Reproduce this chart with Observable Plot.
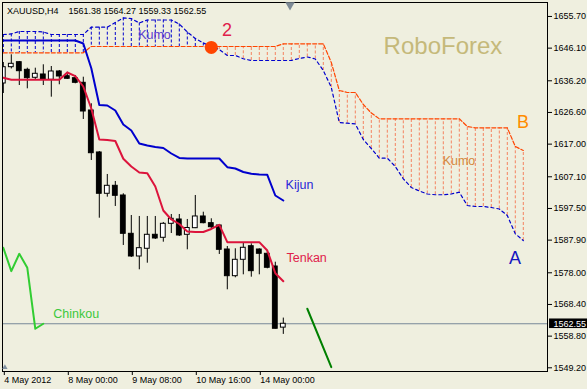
<!DOCTYPE html>
<html><head><meta charset="utf-8">
<script src="https://cdn.jsdelivr.net/npm/d3@7"></script>
<script src="https://cdn.jsdelivr.net/npm/@observablehq/plot@0.6"></script>
<style>
html,body{margin:0;padding:0;background:#efefdf;}
</style></head><body><div id="chart"></div>
<script>
// ---- data ----
const header = "XAUUSD,H4\u00a0\u00a0\u00a0 1561.38 1564.27 1559.33 1562.55";
const open  = [1635.38,1640.32,1641.84,1639.53,1637.11,1638.11,1636.50,1639.02,1637.59,1636.99,1635.59,1627.20,1614.47,1601.95,1604.37,1601.43,1589.82,1582.94,1585.28,1589.52,1588.61,1592.85,1594.16,1589.52,1591.52,1595.07,1593.04,1592.34,1585.06,1576.97,1581.94,1586.06,1585.06,1583.76,1579.91,1561.38];
const high  = [1641.75,1644.08,1642.05,1640.02,1640.02,1641.05,1640.53,1639.32,1638.81,1637.81,1637.29,1629.23,1614.77,1607.80,1605.68,1601.95,1595.37,1595.07,1595.07,1595.07,1593.25,1595.67,1595.67,1594.16,1601.43,1596.37,1594.37,1592.55,1585.97,1585.28,1586.97,1586.79,1585.28,1584.46,1581.21,1564.27];
const low   = [1632.35,1639.78,1634.77,1633.77,1636.29,1634.77,1631.23,1634.99,1636.59,1635.29,1624.47,1612.04,1594.55,1600.92,1598.10,1586.28,1582.64,1578.91,1580.91,1588.10,1587.28,1589.91,1589.00,1584.97,1591.40,1592.85,1591.34,1583.55,1572.85,1576.49,1577.39,1576.67,1577.39,1579.21,1560.96,1559.33];
const close = [1640.32,1641.35,1639.11,1636.99,1638.32,1636.59,1639.02,1637.50,1636.81,1635.59,1626.89,1614.25,1601.95,1604.37,1601.34,1589.82,1582.94,1585.46,1589.52,1588.40,1592.85,1594.37,1589.31,1591.58,1595.07,1593.04,1591.82,1584.97,1576.97,1581.94,1585.58,1578.49,1583.76,1579.52,1561.03,1562.55];
const tenkan = [1637.11,1636.50,1636.50,1636.50,1636.50,1636.50,1636.50,1636.50,1638.72,1637.59,1634.47,1627.80,1618.41,1618.25,1617.95,1612.56,1610.22,1608.40,1608.19,1604.16,1596.88,1594.16,1592.79,1590.52,1590.37,1590.37,1591.28,1592.52,1587.28,1587.28,1587.28,1587.28,1587.28,1584.76,1577.88,1575.45];
const kijun = [1648.42,1648.42,1648.42,1648.42,1648.42,1648.42,1648.42,1648.42,1648.42,1648.42,1647.51,1640.00,1628.86,1628.71,1627.20,1622.95,1621.13,1617.19,1616.59,1616.13,1615.83,1614.16,1612.80,1612.65,1612.65,1612.65,1612.65,1612.65,1610.01,1609.61,1608.56,1608.01,1607.80,1607.71,1601.43,1599.92];
const chinkou = [1585.58,1578.49,1583.76,1579.52,1561.03,1562.55];
const senkouA = [1650.23,1650.39,1651.14,1651.14,1651.14,1650.99,1650.23,1650.23,1650.23,1650.23,1650.23,1652.45,1652.45,1652.45,1653.87,1655.24,1655.08,1653.72,1654.63,1654.63,1654.63,1654.63,1653.42,1650.99,1649.02,1647.66,1646.60,1645.69,1643.87,1643.87,1642.87,1642.35,1642.35,1642.35,1642.35,1642.35,1642.35,1642.96,1643.41,1642.81,1639.32,1634.20,1623.56,1623.35,1623.11,1618.41,1615.68,1612.74,1612.74,1610.22,1606.49,1603.86,1602.80,1601.89,1601.65,1601.65,1601.89,1602.43,1598.40,1598.10,1598.10,1597.79,1597.34,1595.37,1589.82,1587.79];
const senkouB = [1644.69,1644.69,1644.69,1644.69,1644.69,1644.69,1644.69,1644.69,1644.69,1644.69,1644.69,1646.60,1646.60,1646.60,1646.60,1646.60,1646.60,1646.60,1646.60,1646.60,1646.60,1646.60,1646.60,1646.60,1646.60,1646.60,1646.60,1646.60,1646.60,1646.60,1646.60,1646.60,1646.60,1646.60,1646.60,1647.41,1647.41,1647.41,1647.41,1647.41,1647.41,1641.75,1633.26,1632.65,1632.65,1629.02,1626.44,1624.68,1624.68,1624.68,1624.68,1624.68,1624.68,1624.68,1624.68,1624.68,1624.68,1624.68,1622.35,1621.95,1621.95,1621.95,1621.95,1621.95,1616.28,1615.07];
const xTickIndex = [0, 8, 16, 24, 32];
const xTickLabels = ["4 May 2012", "8 May 00:00", "9 May 08:00", "10 May 16:00", "14 May 00:00"];
const yTicks = [1655.70,1646.10,1636.20,1626.60,1617.00,1607.10,1597.50,1587.90,1578.00,1568.40,1558.80,1549.20];
const lastPrice = 1562.55;
const forecast = [{i: 38, p: 1567.1}, {i: 41, p: 1549.4}];
const crossing = [{i: 26, p: 1646.3}];
const notes = [
  {name: "kumoA", text: "Kumo", i: 18.9, p: 1648.93},
  {name: "two", text: "2", i: 27.96, p: 1649.63},
  {name: "brand", text: "RoboForex", i: 54.96, p: 1644.47},
  {name: "B", text: "B", i: 64.96, p: 1621.74},
  {name: "kumoB", text: "Kumo", i: 56.96, p: 1610.53},
  {name: "kijun", text: "Kijun", i: 35.28, p: 1603.25},
  {name: "tenkan", text: "Tenkan", i: 35.4, p: 1581.27},
  {name: "A", text: "A", i: 63.96, p: 1580.52},
  {name: "chinkou", text: "Chinkou", i: 6.24, p: 1564.15}
];

// ---- styles ----
const BG = "#efefdf";
const FONT = "'Liberation Sans', Arial, sans-serif";
const BLUE = "#0000cd";
const ORANGE = "#ff4500";
const HATCH = "#f4825f";
const noteStyle = {
  kumoA:   {fill: "#5a3ad0", fontSize: 12.5, textAnchor: "middle"},
  two:     {fill: "#e0204a", fontSize: 18, textAnchor: "middle"},
  brand:   {fill: "#c5b97a", fontSize: 24, textAnchor: "middle"},
  B:       {fill: "#ff8c00", fontSize: 18, textAnchor: "middle"},
  kumoB:   {fill: "#d4893e", fontSize: 12.5, textAnchor: "middle"},
  kijun:   {fill: "#2828d8", fontSize: 12.5, textAnchor: "start"},
  tenkan:  {fill: "#e0204a", fontSize: 12.5, textAnchor: "start"},
  A:       {fill: "#1515c0", fontSize: 18, textAnchor: "middle"},
  chinkou: {fill: "#3cc83c", fontSize: 12.5, textAnchor: "start"}
};

const bars = open.map((o, i) => ({i, o, h: high[i], l: low[i], c: close[i]}));
const series = arr => arr.map((v, i) => ({i, v}));
const cloud = senkouA.map((a, i) => ({i, a, b: senkouB[i]}));

const chart = Plot.plot({
  width: 587, height: 389,
  marginLeft: 2, marginRight: 40, marginTop: 2, marginBottom: 18,
  x: {domain: [-0.1, 68.025]},
  y: {domain: [1548.08, 1659.93]},
  style: {background: BG, fontFamily: FONT, fontSize: "9px", color: "black", overflow: "visible"},
  marks: [
    Plot.ruleX(cloud, {x: "i", y1: "a", y2: "b", stroke: d => d.a > d.b ? BLUE : HATCH, strokeWidth: 1, strokeDasharray: "3,2", clip: true}),
    Plot.line(cloud, {x: "i", y: "b", stroke: ORANGE, strokeWidth: 1.2, strokeDasharray: "4,2", clip: true}),
    Plot.line(cloud, {x: "i", y: "a", stroke: BLUE, strokeWidth: 1.2, strokeDasharray: "3,3", clip: true}),
    Plot.ruleY([lastPrice], {stroke: "#778899", strokeWidth: 1}),
    Plot.line(forecast, {x: "i", y: "p", stroke: "#008000", strokeWidth: 2}),
    Plot.ruleX(bars, {x: "i", y1: "l", y2: "h", stroke: "black", strokeWidth: 1, clip: true}),
    Plot.rect(bars, {x1: d => d.i - 0.3, x2: d => d.i + 0.3, y1: "o", y2: "c", fill: d => d.c >= d.o ? "white" : "black", stroke: "black", strokeWidth: 1, clip: true}),
    Plot.line(series(tenkan), {x: "i", y: "v", stroke: "#dc143c", strokeWidth: 2, clip: true}),
    Plot.line(series(kijun), {x: "i", y: "v", stroke: BLUE, strokeWidth: 2, clip: true}),
    Plot.line(series(chinkou), {x: "i", y: "v", stroke: "#32cd32", strokeWidth: 2, clip: true}),
    Plot.dot(crossing, {x: "i", y: "p", r: 6.5, fill: ORANGE, stroke: null}),
    ...notes.map(n => Plot.text([n], {x: "i", y: "p", text: "text", lineAnchor: "bottom", fontFamily: FONT, ...noteStyle[n.name]})),
    Plot.frame({stroke: "black", strokeWidth: 1}),
    Plot.axisY(yTicks, {anchor: "right", tickSize: 4, tickPadding: 2, tickFormat: d => d.toFixed(2), fontSize: 9, label: null}),
    Plot.axisX(xTickIndex, {tickSize: 4, tickPadding: 1, tickFormat: d => xTickLabels[xTickIndex.indexOf(d)], textAnchor: "start", dx: 1, fontSize: 9, label: null}),
    Plot.rect([lastPrice], {x1: 68.28, x2: 73.1, y1: d => d - 1.45, y2: d => d + 1.45, fill: "black"}),
    Plot.text([lastPrice], {x: 68.78, y: d => d, text: d => d.toFixed(2), fill: "white", textAnchor: "start", fontSize: 9}),
    Plot.text([header], {frameAnchor: "top-left", dx: 4.5, dy: 5, text: d => d, textAnchor: "start", lineAnchor: "top", fontSize: 9, fill: "black"}),
    Plot.dot([{i: 35.84, p: 1659.18}], {x: "i", y: "p", symbol: "triangle", r: 3.5, rotate: 180, fill: "#7d8a96", stroke: null}),
    Plot.dot([{i: 0.2, p: 1549.3}], {x: "i", y: "p", symbol: "triangle", r: 2, fill: "#8090a0", stroke: null})
  ]
});
document.getElementById("chart").append(chart);
</script></body></html>
